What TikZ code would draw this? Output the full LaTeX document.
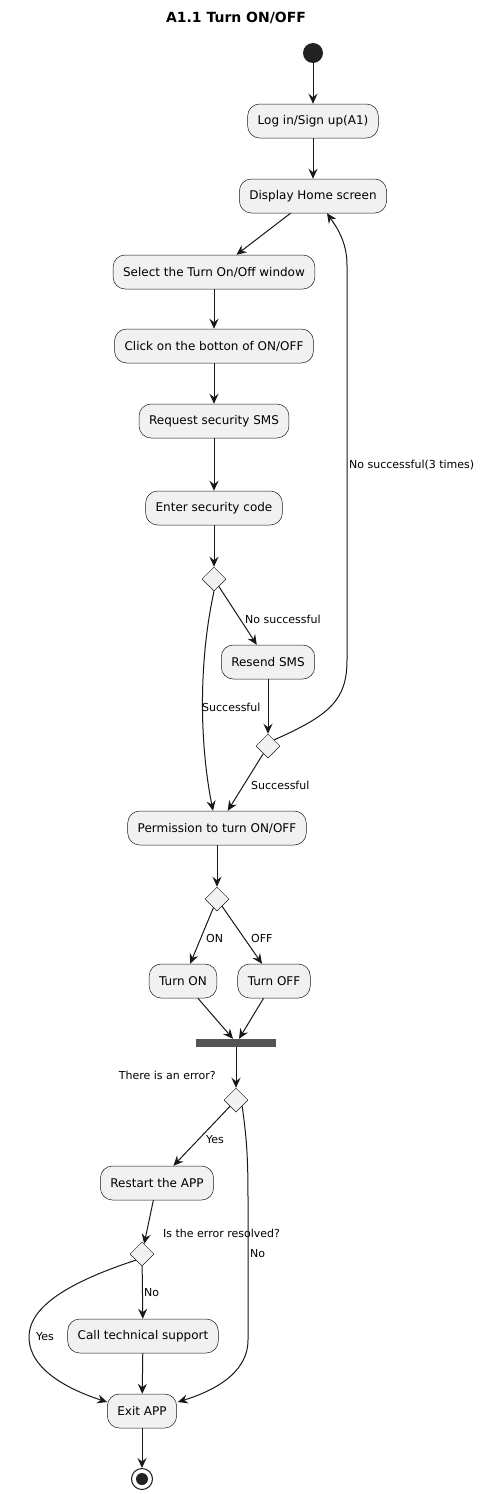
\documentclass[tikz,border=0pt]{standalone}
\usepackage{fontspec}
\setmainfont{DejaVu Sans}
\usetikzlibrary{shapes.geometric,arrows.meta,calc}
\definecolor{boxfill}{HTML}{F1F1F1}
\definecolor{ln}{HTML}{181818}
\definecolor{barc}{HTML}{555555}
\definecolor{dot}{HTML}{222222}
\begin{document}
\begin{tikzpicture}[x=1pt,y=-1pt,
  act/.style={draw=ln, line width=0.5pt, fill=boxfill, rounded corners=12pt, minimum height=34pt, inner xsep=10pt, font=\fontsize{12}{14}\selectfont},
  dec/.style={draw=ln, line width=0.5pt, fill=boxfill, diamond, minimum width=24pt, minimum height=24pt, inner sep=0pt},
  arr/.style={draw=ln, line width=1pt, -{Stealth[length=10pt,width=9pt,inset=3.5pt]}},
  lbl/.style={font=\fontsize{11}{13}\selectfont, text=black, inner sep=0pt, anchor=west}]
\useasboundingbox[fill=white] (0,0) rectangle (484,1494);
\node[font=\bfseries\fontsize{14}{16}\selectfont] (title) at (236,18) {A1.1 Turn ON/OFF};
\node[circle, fill=dot, minimum size=20pt, inner sep=0pt] (start) at (313,53) {};
\node[act] (login) at (313,121) {Log in/Sign up(A1)};
\node[act] (home) at (313,196) {Display Home screen};
\node[act] (sel) at (214,272) {Select the Turn On/Off window};
\node[act] (click) at (214,346) {Click on the botton of ON/OFF};
\node[act] (req) at (214,421) {Request security SMS};
\node[act] (enter) at (214,508) {Enter security code};
\node[dec] (d1) at (214,579) {};
\node[act] (resend) at (268,662) {Resend SMS};
\node[dec] (d2) at (268,746) {};
\node[act] (perm) at (217,828) {Permission to turn ON/OFF};
\node[dec] (d3) at (217,899) {};
\node[act] (on) at (183,981) {Turn ON};
\node[act] (off) at (274,981) {Turn OFF};
\node[fill=barc, minimum width=80pt, minimum height=8pt, inner sep=0pt] (bar) at (236,1043) {};
\node[dec] (d4) at (236,1100) {};
\node[act] (restart) at (157,1183) {Restart the APP};
\node[dec] (d5) at (142,1254) {};
\node[act] (call) at (143,1336) {Call technical support};
\node[act] (exit) at (142,1411) {Exit APP};
\node[circle, draw=ln, line width=1pt, fill=white, minimum size=21pt, inner sep=0pt] (stop) at (142,1479) {};
\node[circle, fill=dot, minimum size=12pt, inner sep=0pt] (stopdot) at (stop.center) {};

\draw[arr] (start) -- (login);
\draw[arr] (login) -- (home);
\draw[arr] (home) -- (sel);
\draw[arr] (sel) -- (click);
\draw[arr] (click) -- (req);
\draw[arr] (req) -- (enter);
\draw[arr] (enter) -- (d1);
\draw[arr] (d1) -- (resend);
\draw[arr] (d1.south) .. controls (199,660) and (199,740) .. ($(perm.north)+(-4,0)$);
\draw[arr] (resend) -- (d2);
\draw[arr] (d2) -- (perm);
\draw[arr] (d2.north east) .. controls (330,715) and (347,700) .. (347,660) -- (347,265) .. controls (347,240) and (335,225) .. ($(home.south)+(14,0)$);
\draw[arr] (perm) -- (d3);
\draw[arr] (d3) -- (on);
\draw[arr] (d3) -- (off);
\draw[arr] (on) -- ($(bar.north)+(-3,0)$);
\draw[arr] (off) -- ($(bar.north)+(3,0)$);
\draw[arr] (bar) -- (d4);
\draw[arr] (d4) -- (restart);
\draw[arr] (d4.south east) .. controls (247,1140) and (248,1160) .. (248,1200) -- (248,1340) .. controls (248,1375) and (210,1392) .. ($(exit.east)+(1,-9)$);
\draw[arr] (restart) -- (d5);
\draw[arr] (d5) -- (call);
\draw[arr] (d5.south west) .. controls (60,1285) and (29,1310) .. (29,1337) .. controls (29,1370) and (70,1390) .. ($(exit.west)+(0,-9)$);
\draw[arr] (call) -- (exit);
\draw[arr] (exit) -- (stop);

\node[lbl] (l1) at (245,619) {No successful};
\node[lbl] (l2) at (202,707) {Successful};
\node[lbl] (l3) at (251,785) {Successful};
\node[lbl] (l4) at (349,465) {No successful(3 times)};
\node[lbl] (l5) at (206,938) {ON};
\node[lbl] (l6) at (251,938) {OFF};
\node[lbl, anchor=east] (l7) at (216,1075) {There is an error?};
\node[lbl] (l8) at (206,1140) {Yes};
\node[lbl] (l9) at (163,1233) {Is the error resolved?};
\node[lbl] (l10) at (250,1254) {No};
\node[lbl] (l11) at (144,1293) {No};
\node[lbl] (l12) at (36,1337) {Yes};
\end{tikzpicture}
\end{document}
